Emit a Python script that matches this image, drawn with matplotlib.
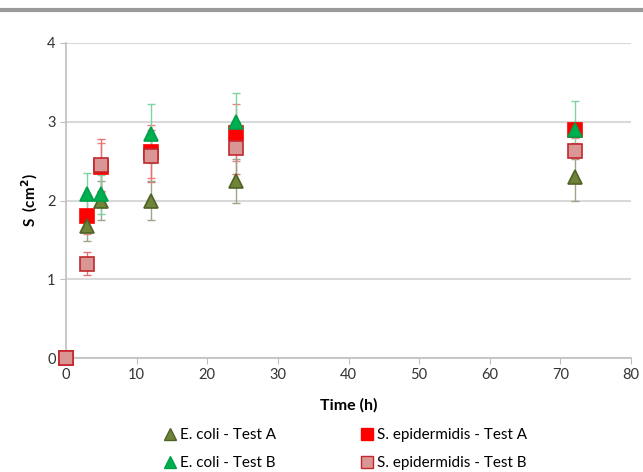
import matplotlib
matplotlib.use("Agg")
import matplotlib.pyplot as plt
from matplotlib.lines import Line2D

plt.rcParams['font.family'] = ['Lato', 'DejaVu Sans']

# sampling times (h)
time_ecoli = [3, 5, 12, 24, 72]
time_sepi = [0, 3, 5, 12, 24, 72]

# surface S (cm2) and error bars
ecoli_a = [1.68, 2.0, 2.0, 2.25, 2.3]
ecoli_a_err = [0.2, 0.25, 0.25, 0.28, 0.3]
ecoli_b = [2.08, 2.08, 2.85, 3.0, 2.9]
ecoli_b_err = [0.27, 0.25, 0.37, 0.36, 0.36]
sepi_a = [0, 1.8, 2.42, 2.62, 2.86, 2.9]
sepi_a_err = [0, 0.23, 0.31, 0.34, 0.36, 0.1]
sepi_b = [0, 1.2, 2.45, 2.57, 2.67, 2.63]
sepi_b_err = [0, 0.14, 0.33, 0.33, 0.33, 0.1]

labels = ["E. coli - Test A", "E. coli - Test B",
          "S. epidermidis - Test A", "S. epidermidis - Test B"]

fig = plt.figure(figsize=(6.43, 4.72), dpi=100)
ax = fig.add_axes([66 / 643, 114 / 472, 565 / 643, 315 / 472])

# grey band at the very top
fig.add_artist(Line2D([0, 1], [1 - 10 / 472, 1 - 10 / 472], color='#999999',
                      lw=3, transform=fig.transFigure))

def series(x, y, err, marker, face, edge, ecol, z):
    # error bars all sit under every marker
    ax.errorbar(x, y, yerr=err, fmt='none', ecolor=ecol, elinewidth=1,
                capsize=3, capthick=1, zorder=z, clip_on=False)
    ax.plot(x, y, ls='none', marker=marker, ms=10, mfc=face, mec=edge,
            mew=1.2, zorder=z + 10, clip_on=False)

series(time_sepi, sepi_a, sepi_a_err, 's', '#FF0000', '#FF0000', '#F08080', 3)
series(time_sepi, sepi_b, sepi_b_err, 's', '#D99694', '#C0282D', '#E57373', 4)
series(time_ecoli, ecoli_a, ecoli_a_err, '^', '#6F8438', '#4F6228', '#9AA58A', 5)
series(time_ecoli, ecoli_b, ecoli_b_err, '^', '#00B050', '#00A04A', '#7FD3A3', 6)

ax.set_xlim(0, 80)
ax.set_ylim(0, 4)
ax.set_xticks(range(0, 81, 10))
ax.set_yticks(range(0, 5))
ax.yaxis.grid(True, color='#D9D9D9', lw=1.5)
ax.set_axisbelow(True)
for s in ['top', 'right']:
    ax.spines[s].set_visible(False)
for s in ['left', 'bottom']:
    ax.spines[s].set_color('#BFBFBF')
    ax.spines[s].set_linewidth(1.2)
ax.tick_params(axis='both', colors='#BFBFBF', labelcolor='#333333',
               labelsize=10.5, length=4)

ax.set_xlabel("Time (h)", fontsize=11.5, fontweight='bold', labelpad=11)
ax.set_ylabel("S  (cm$^\\mathbf{2}$)", fontsize=11, fontweight='bold', labelpad=5)

handles = [
    Line2D([], [], ls='none', marker='^', ms=9, mfc='#6F8438', mec='#4F6228'),
    Line2D([], [], ls='none', marker='^', ms=9, mfc='#00B050', mec='#00A04A'),
    Line2D([], [], ls='none', marker='s', ms=9, mfc='#FF0000', mec='#FF0000'),
    Line2D([], [], ls='none', marker='s', ms=9, mfc='#D99694', mec='#C0282D'),
]
fig.legend(handles, labels, ncol=2, frameon=False, fontsize=11,
           loc='lower center', bbox_to_anchor=(0.535, -0.025), columnspacing=5.3,
           handletextpad=0.1, handlelength=1.2, labelspacing=0.9)

fig.savefig("out.png", dpi=100)
